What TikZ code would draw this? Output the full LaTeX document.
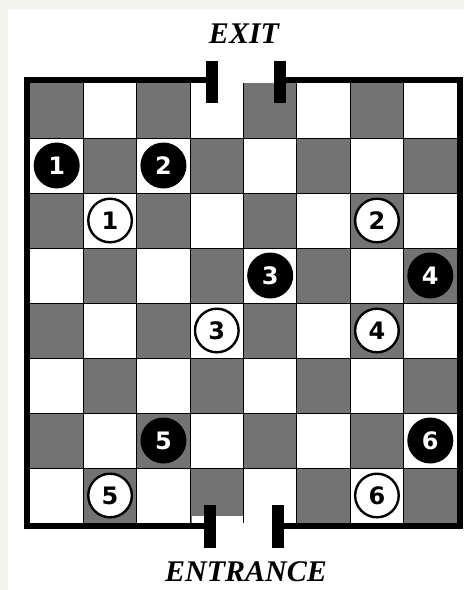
\documentclass[tikz,border=0pt]{standalone}
\usepackage{fontspec}
\newfontfamily\gatefont{Liberation Serif}
\newfontfamily\manfont{DejaVu Sans}
\usetikzlibrary{positioning,calc}
\definecolor{paper}{RGB}{244,245,238}
\definecolor{darksq}{RGB}{115,115,115}
\tikzset{
  blackman/.style={circle, fill=black, text=white, minimum size=46pt, inner sep=0pt,
    font=\manfont\bfseries\fontsize{24}{24}\selectfont},
  whiteman/.style={circle, draw=black, line width=2.4pt, fill=white, text=black,
    minimum size=43.6pt, inner sep=0pt, font=\manfont\bfseries\fontsize{24}{24}\selectfont},
  wall/.style={line width=6pt, line join=miter},
  post/.style={line width=12pt},
  gatelabel/.style={anchor=base, inner sep=1pt, font=\gatefont\bfseries\itshape\fontsize{30}{30}\selectfont}
}

\begin{document}
\begin{tikzpicture}[x=1pt, y=-1pt]
  \useasboundingbox (0,0) rectangle (464,590);
  % paper
  \fill[paper] (0,0) rectangle (464,590);
  \fill[white] (8,9) rectangle (464,590);
  % board geometry
  \def\bx{30} \def\by{83} \def\cw{53.375} \def\ch{55}
  % squares
  \foreach \r in {0,...,7}
    \foreach \c in {0,...,7} {
      \pgfmathtruncatemacro\odd{mod(\r+\c,2)}
      \ifnum\odd=0
        \fill[darksq] ({\bx+\c*\cw},{\by+\r*\ch}) rectangle ({\bx+(\c+1)*\cw},{\by+(\r+1)*\ch});
      \fi
      \coordinate (s\r\c) at ({\bx+(\c+0.5)*\cw},{\by+(\r+0.5)*\ch});
    }
  \fill[white] (192,516) rectangle (243.5,524);
  % grid
  \foreach \i in {1,...,7} {
    \draw[line width=1pt] ({\bx+\i*\cw},\by) -- ({\bx+\i*\cw},{\by+8*\ch});
    \draw[line width=1pt] (\bx,{\by+\i*\ch}) -- ({\bx+8*\cw},{\by+\i*\ch});
  }
  % walls and gates
  \draw[wall] (212,80) -- (27,80) -- (27,526) -- (210,526);
  \draw[wall] (280,80) -- (460,80) -- (460,526) -- (278,526);
  \draw[post] (212,61) -- (212,103);
  \draw[post] (280,61) -- (280,103);
  \draw[post] (210,505) -- (210,548);
  \draw[post] (278,505) -- (278,548);
  \node[gatelabel] (exit) at (244,43) {EXIT};
  \node[gatelabel] (entrance) at (246,581) {ENTRANCE};
  % black men
  \node[blackman] (b1) at (s10) {1};
  \node[blackman] (b2) at (s12) {2};
  \node[blackman] (b3) at (s34) {3};
  \node[blackman] (b4) at (s37) {4};
  \node[blackman] (b5) at (s62) {5};
  \node[blackman] (b6) at (s67) {6};
  % white men
  \node[whiteman] (w1) at (s21) {1};
  \node[whiteman] (w2) at (s26) {2};
  \node[whiteman] (w3) at (s43) {3};
  \node[whiteman] (w4) at (s46) {4};
  \node[whiteman] (w5) at (s71) {5};
  \node[whiteman] (w6) at (s76) {6};
\end{tikzpicture}
\end{document}
